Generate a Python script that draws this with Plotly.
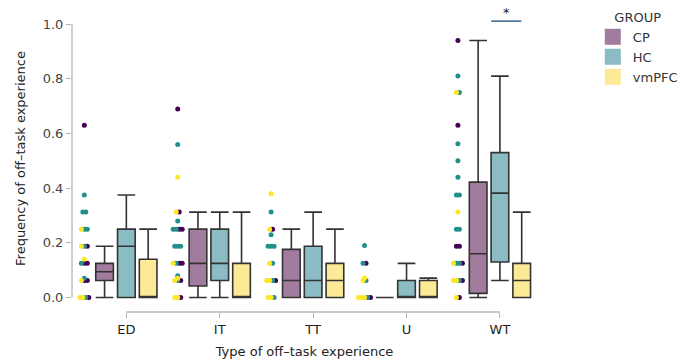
import plotly.graph_objects as go
from collections import defaultdict

categories = ["ED", "IT", "TT", "U", "WT"]
groups = ["CP", "HC", "vmPFC"]

# Box statistics per group (ED, IT, TT, U, WT)
cp_lower = [0, 0, 0, 0, 0]
cp_q1 = [0.0625, 0.042, 0, 0, 0.015]
cp_median = [0.094, 0.125, 0.0625, 0, 0.16]
cp_q3 = [0.125, 0.25, 0.176, 0, 0.422]
cp_upper = [0.1875, 0.3125, 0.25, 0, 0.94]

hc_lower = [0, 0, 0, 0, 0.0625]
hc_q1 = [0, 0.0625, 0, 0, 0.13]
hc_median = [0.1875, 0.125, 0.0625, 0, 0.382]
hc_q3 = [0.25, 0.25, 0.1875, 0.0625, 0.53]
hc_upper = [0.375, 0.3125, 0.3125, 0.125, 0.81]

vm_lower = [0, 0, 0, 0, 0]
vm_q1 = [0, 0, 0, 0, 0]
vm_median = [0, 0, 0.0625, 0, 0.0625]
vm_q3 = [0.14, 0.125, 0.125, 0.0625, 0.125]
vm_upper = [0.25, 0.3125, 0.25, 0.071, 0.3125]

# Individual observations per group (ED, IT, TT, U, WT)
cp_points = [
    [0.63, 0.1875, 0.125, 0.125, 0.0625, 0.0625, 0],
    [0.69, 0.3125, 0.25, 0.25, 0.125, 0.125, 0.0625, 0],
    [0.25, 0.0625],
    [0.125, 0],
    [0.94, 0.63, 0.1875, 0.1875, 0.125, 0.0625, 0],
]
hc_points = [
    [0.375, 0.3125, 0.3125, 0.25, 0.25, 0.1875, 0.125, 0.07, 0],
    [0.56, 0.28, 0.25, 0.25, 0.1875, 0.1875, 0.1875, 0.125, 0.08, 0.0625],
    [0.3125, 0.23, 0.1875, 0.1875, 0.1875, 0.125, 0.0625, 0],
    [0.19, 0.125, 0.0625, 0],
    [0.81, 0.75, 0.5625, 0.5, 0.44, 0.375, 0.375, 0.25, 0.25, 0.125, 0.125, 0.0625],
]
vm_points = [
    [0.25, 0.1875, 0.14, 0.0625, 0, 0],
    [0.44, 0.3125, 0.125, 0.07, 0.0625, 0, 0],
    [0.38, 0.25, 0.125, 0.0625, 0.0625, 0, 0],
    [0.071, 0.0625, 0, 0, 0],
    [0.75, 0.3125, 0.125, 0.0625, 0.0625, 0],
]

box_fill = {"CP": "#a27c9f", "HC": "#8bbcc4", "vmPFC": "#fdea96"}
point_color = {"CP": "#440154", "HC": "#21908c", "vmPFC": "#fde725"}

stats = {
    "CP": (cp_lower, cp_q1, cp_median, cp_q3, cp_upper),
    "HC": (hc_lower, hc_q1, hc_median, hc_q3, hc_upper),
    "vmPFC": (vm_lower, vm_q1, vm_median, vm_q3, vm_upper),
}
points = {"CP": cp_points, "HC": hc_points, "vmPFC": vm_points}

xpos = list(range(len(categories)))
fig = go.Figure()

for g in groups:
    lo, q1, me, q3, up = stats[g]
    fig.add_trace(go.Box(
        x=xpos, lowerfence=lo, q1=q1, median=me, q3=q3, upperfence=up,
        name=g, offsetgroup=g, legendgroup=g, showlegend=False,
        fillcolor=box_fill[g], line=dict(color="#333333", width=1.6),
        whiskerwidth=1, boxpoints=False, hoverinfo="skip",
    ))

# strip of points to the left of each category group, spread horizontally per value
strip_offset = -0.45
spread = 0.032
px = {g: [] for g in groups}
py = {g: [] for g in groups}
for ci in xpos:
    rows = defaultdict(list)
    for g in ["vmPFC", "HC", "CP"]:
        for v in points[g][ci]:
            rows[round(v, 3)].append((g, v))
    for key, items in rows.items():
        n = len(items)
        for i, (g, v) in enumerate(items):
            px[g].append(ci + strip_offset + (i - (n - 1) / 2) * spread)
            py[g].append(v)

for g in ["CP", "HC", "vmPFC"]:
    fig.add_trace(go.Scatter(
        x=px[g], y=py[g], mode="markers", showlegend=False, legendgroup=g,
        marker=dict(color=point_color[g], size=5, line=dict(width=0)),
        hoverinfo="skip",
    ))

for g in groups:
    fig.add_trace(go.Scatter(
        x=[None], y=[None], mode="markers", name=g, legendgroup=g,
        marker=dict(symbol="square", size=18, color=box_fill[g], line=dict(width=0)),
    ))

# significance marker for WT (HC vs vmPFC)
sig_category = 4
sig_span = [-0.093, 0.23]
sig_level = 1.011
fig.add_shape(type="line", xref="x", yref="y",
              x0=sig_category + sig_span[0], x1=sig_category + sig_span[1],
              y0=sig_level, y1=sig_level, line=dict(color="#34658f", width=1.5))
fig.add_annotation(x=sig_category + sum(sig_span) / 2, y=sig_level, yshift=9,
                   text="*", showarrow=False, xref="x", yref="y",
                   font=dict(size=13, color="#222222"))

# range-frame axis lines
axis_col = "#b5b5b5"
fig.add_shape(type="line", xref="x", yref="paper", x0=0, x1=len(categories) - 1,
              y0=0, y1=0, line=dict(color=axis_col, width=1.3))
fig.add_shape(type="line", xref="paper", yref="y", x0=0, x1=0, y0=0, y1=1.0,
              line=dict(color=axis_col, width=1.3))

fig.update_layout(
    width=688, height=359,
    margin=dict(l=72, r=148, t=5, b=47),
    paper_bgcolor="white", plot_bgcolor="white",
    font=dict(family="DejaVu Sans", size=13, color="#333333"),
    boxmode="group", boxgap=0.3, boxgroupgap=0.19,
    showlegend=True,
    legend=dict(x=1.12, y=1.0, xanchor="left", yanchor="top",
                title=dict(text="GROUP", side="top center", font=dict(size=13)),
                font=dict(size=13), tracegroupgap=0, itemsizing="trace"),
    xaxis=dict(range=[-0.582, 4.397], tickmode="array", tickvals=xpos,
               ticktext=categories, showgrid=False, zeroline=False, showline=False,
               automargin=False,
               ticks="outside", ticklen=5, tickcolor=axis_col, tickwidth=1.3,
               tickfont=dict(size=13, color="#222222"),
               title=dict(text="Type of off–task experience", standoff=11,
                          font=dict(size=13, color="#222222"))),
    yaxis=dict(range=[-0.053, 1.07], tickmode="array",
               tickvals=[0, 0.2, 0.4, 0.6, 0.8, 1.0],
               ticktext=["0.0", "0.2", "0.4", "0.6", "0.8", "1.0"],
               showgrid=False, zeroline=False, showline=False,
               automargin=False,
               ticks="outside", ticklen=5, tickcolor=axis_col, tickwidth=1.3,
               tickfont=dict(size=13, color="#444444"),
               title=dict(text="Frequency of off–task experience", standoff=14,
                          font=dict(size=13, color="#222222"))),
)

fig.write_html("out.html", config={"displayModeBar": False},
               post_script="document.body.style.margin='0';document.body.style.overflow='hidden';")
